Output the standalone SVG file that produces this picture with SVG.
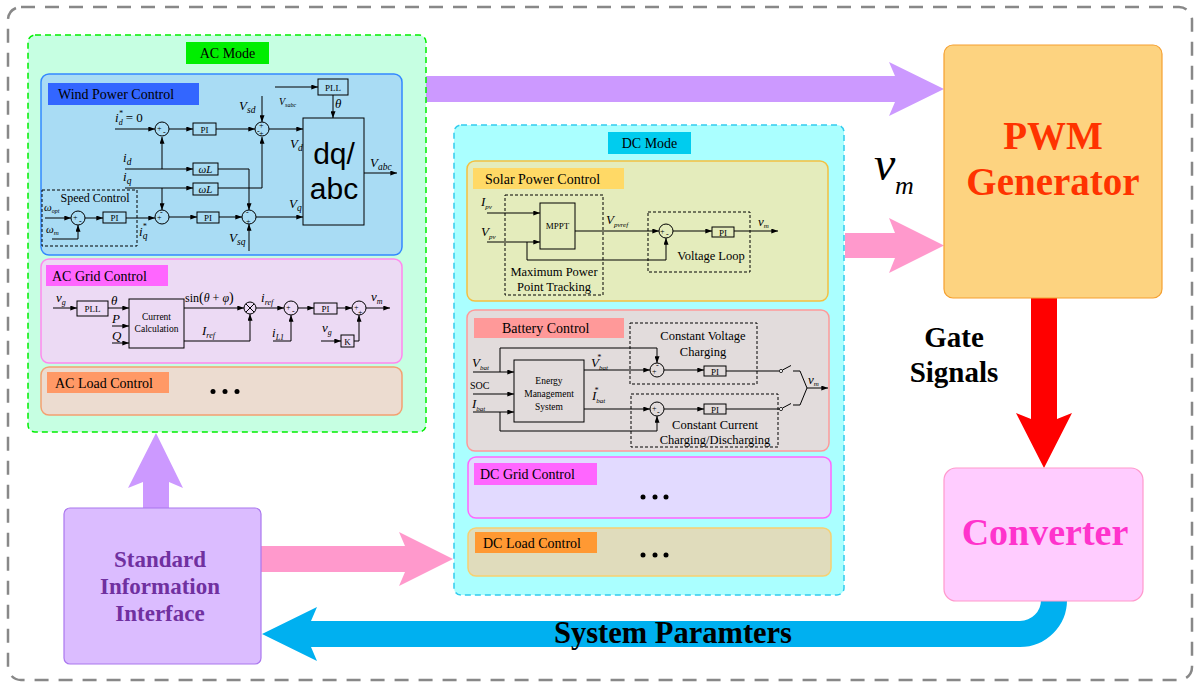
<svg xmlns="http://www.w3.org/2000/svg" width="1198" height="683" viewBox="0 0 1198 683">
<defs>
<marker id="ah" viewBox="0 0 8 6" refX="8" refY="3" markerWidth="7" markerHeight="5" markerUnits="userSpaceOnUse" orient="auto"><path d="M0,0 L8,3 L0,6 z" fill="#000"/></marker>
<style>
text{font-family:"Liberation Serif","Times New Roman",serif;fill:#000}
.w{fill:none;stroke:#000;stroke-width:1;marker-end:url(#ah)}
.l{fill:none;stroke:#000;stroke-width:1}
.b{fill:none;stroke:#000;stroke-width:1}
.d{fill:none;stroke:#000;stroke-width:1;stroke-dasharray:3 2}
.c{fill:none;stroke:#000;stroke-width:1}
.m{font-style:italic;font-size:13px}
.sub{font-size:9.5px}
.sg{font-size:8px}
.pi{font-size:9px;text-anchor:middle}
.hd{font-size:14px}
.sm{font-size:12.5px;text-anchor:middle}
.dot{fill:#000}
</style>
</defs>
<rect width="1198" height="683" fill="#fff"/>
<rect x="8" y="7" width="1184" height="673" rx="13" fill="none" stroke="#888" stroke-width="2.5" stroke-dasharray="14 10"/>

<g id="connectors">
<polygon points="424,76 895,76 889,62 944,89 889,116 895,102 424,102" fill="#cc99ff"/>
<polygon points="845,233 895,233 889,218 944,245.5 889,273 895,258 845,258" fill="#ff99cc"/>
<polygon points="261,546 405,546 399,532 453,559 399,586 405,572 261,572" fill="#ff99cc"/>
<polygon points="143,508 143,482 128,488 156,433 183,488 169,482 169,508" fill="#cc99ff"/>
<polygon points="1031,298 1057,298 1057,419 1072,413 1044,468 1016,413 1031,419" fill="#ff0000"/>
<path d="M1054,598 V600 A34,34 0 0 1 1020,634 H308" fill="none" stroke="#00b0f0" stroke-width="26"/>
<polygon points="311,621 317,607 262,634 317,661 311,647" fill="#00b0f0"/>
</g>

<g id="ac-mode">
<rect x="28" y="35" width="398" height="397" rx="7" fill="#c6ffe2" stroke="#00ee00" stroke-width="1.5" stroke-dasharray="6 4"/>
<rect x="186" y="42" width="83" height="22" fill="#00ee00"/>
<text x="227.5" y="58" font-size="14" text-anchor="middle">AC Mode</text>
</g>

<g id="wind-power-control">
<rect x="41" y="74" width="361" height="181" rx="8" fill="#a9dcf4" stroke="#3388ff" stroke-width="1.5"/>
<rect x="48" y="83" width="151" height="22" fill="#3366ff"/>
<text x="58" y="99" class="hd">Wind Power Control</text>
<text x="115" y="122" class="m">i<tspan font-size="8" dy="3">d</tspan><tspan font-size="8" dx="-4" dy="-9">*</tspan><tspan font-style="normal" dy="6" dx="3">= 0</tspan></text>
<path class="w" d="M115,129 H155"/>
<circle class="c" cx="162" cy="129" r="7"/>
<text x="157" y="131" class="sg">+</text><text x="163" y="135" class="sg">-</text>
<path class="w" d="M169,129 H193"/>
<rect class="b" x="193" y="123" width="23" height="12"/>
<text x="204.5" y="132.5" class="pi">PI</text>
<path class="w" d="M216,129 H255"/>
<circle class="c" cx="262" cy="129" r="7"/>
<text x="259" y="128" class="sg">+</text><text x="257" y="134" class="sg">-</text><text x="259" y="136" class="sg">+</text>
<text x="239" y="110" class="m">V<tspan class="sub" dy="3">sd</tspan></text>
<path class="w" d="M262,96 V122"/>
<path class="w" d="M269,129 H303"/>
<rect class="b" x="303" y="118" width="61" height="107"/>
<text x="334" y="164" font-size="30" text-anchor="middle" style="font-family:'Liberation Sans',Arial,sans-serif">dq/</text>
<text x="334" y="199" font-size="30" text-anchor="middle" style="font-family:'Liberation Sans',Arial,sans-serif">abc</text>
<rect class="b" x="318" y="79" width="30" height="16"/>
<text x="333" y="90.5" class="pi">PLL</text>
<path class="w" d="M275,87 H318"/>
<text x="279" y="105" font-style="italic" font-size="10">V<tspan font-size="6" dy="2">sabc</tspan></text>
<text x="335" y="108" class="m">θ</text>
<path class="w" d="M333,95 V118"/>
<text x="290" y="148" class="m">V<tspan class="sub" dy="3">d</tspan></text>
<text x="289" y="208" class="m">V<tspan class="sub" dy="3">q</tspan></text>
<text x="370" y="167" class="m">V<tspan class="sub" dy="3">abc</tspan></text>
<path class="w" d="M364,173 H397"/>
<text x="123" y="162" class="m">i<tspan class="sub" dy="3">d</tspan></text>
<path class="w" d="M125,169 H193"/>
<path class="w" d="M162,169 V137"/>
<rect class="b" x="193" y="163" width="25" height="12"/>
<text x="205.5" y="173" font-size="11" font-style="italic" text-anchor="middle">ωL</text>
<path class="w" d="M218,169 H249 V210"/>
<text x="123" y="181" class="m">i<tspan class="sub" dy="3">q</tspan></text>
<path class="w" d="M125,188 H193"/>
<rect class="b" x="193" y="183" width="25" height="12"/>
<text x="205.5" y="193" font-size="11" font-style="italic" text-anchor="middle">ωL</text>
<path class="w" d="M218,188 H262 V137"/>
<path class="w" d="M162,188 V210"/>
<rect class="d" x="42" y="190" width="95" height="56"/>
<text x="95" y="202" font-size="12" text-anchor="middle">Speed Control</text>
<text x="44" y="211" font-style="italic" font-size="11">ω<tspan font-size="6" dy="2">opt</tspan></text>
<path class="w" d="M45,218 H71"/>
<circle class="c" cx="78" cy="218" r="7"/>
<text x="73" y="220" class="sg">+</text><text x="79" y="224" class="sg">-</text>
<text x="46" y="233" font-style="italic" font-size="11">ω<tspan font-size="7" dy="2">m</tspan></text>
<path class="w" d="M52,239 H78 V225"/>
<path class="w" d="M85,218 H103"/>
<rect class="b" x="103" y="212" width="23" height="11"/>
<text x="114.5" y="221" class="pi">PI</text>
<path class="w" d="M126,218 H155"/>
<circle class="c" cx="162" cy="217" r="7"/>
<text x="157" y="220" class="sg">+</text><text x="160" y="215" class="sg">-</text>
<text x="139" y="236" class="m">i<tspan class="sub" dy="3">q</tspan><tspan font-size="8" dx="-5" dy="-10">*</tspan></text>
<path class="w" d="M169,217 H197"/>
<rect class="b" x="197" y="212" width="22" height="11"/>
<text x="208" y="221" class="pi">PI</text>
<path class="w" d="M219,217 H242"/>
<circle class="c" cx="249" cy="217" r="7"/>
<text x="246" y="215" class="sg">-</text><text x="246" y="224" class="sg">+</text>
<text x="229" y="242" class="m">V<tspan class="sub" dy="3">sq</tspan></text>
<path class="w" d="M249,251 V224"/>
<path class="w" d="M256,217 H303"/>
</g>

<g id="ac-grid-control">
<rect x="41" y="259" width="361" height="104" rx="8" fill="#ecdaf4" stroke="#ff88ee" stroke-width="1.5"/>
<rect x="46" y="265" width="122" height="21" fill="#ff66ff"/>
<text x="52" y="281" class="hd">AC Grid Control</text>
<text x="56" y="302" class="m">v<tspan font-size="8" dy="3">g</tspan></text>
<path class="w" d="M53,308 H77"/>
<rect class="b" x="77" y="301" width="31" height="15"/>
<text x="92.5" y="312" class="pi">PLL</text>
<text x="111" y="305" class="m">θ</text>
<path class="w" d="M108,308 H129"/>
<text x="112" y="323" class="m">P</text>
<path class="w" d="M112,326 H129"/>
<text x="112" y="340" class="m">Q</text>
<path class="w" d="M112,343 H129"/>
<rect class="b" x="129" y="299" width="55" height="49"/>
<text x="156.5" y="320" font-size="9.5" text-anchor="middle">Current</text>
<text x="156.5" y="332" font-size="9.5" text-anchor="middle">Calculation</text>
<text x="185" y="302" font-size="12">sin<tspan font-size="14">(</tspan><tspan font-style="italic">θ</tspan> + <tspan font-style="italic">φ</tspan><tspan font-size="14">)</tspan></text>
<path class="w" d="M184,308 H244"/>
<circle class="c" cx="250" cy="308" r="6"/>
<path class="l" d="M245.8,303.8 L254.2,312.2 M254.2,303.8 L245.8,312.2"/>
<text x="202" y="335" class="m">I<tspan font-size="8" dy="3">ref</tspan></text>
<path class="w" d="M184,341 H250 V314"/>
<text x="261" y="302" class="m">i<tspan font-size="8" dy="3">ref</tspan></text>
<path class="w" d="M256,308 H284"/>
<circle class="c" cx="291" cy="308" r="7"/>
<text x="286" y="310" class="sg">+</text><text x="292" y="314" class="sg">-</text>
<text x="272" y="337" class="m">i<tspan font-size="8" dy="3">L1</tspan></text>
<path class="w" d="M273,341 H291 V315"/>
<path class="w" d="M298,308 H314"/>
<rect class="b" x="314" y="303" width="23" height="11"/>
<text x="325.5" y="312" class="pi">PI</text>
<path class="w" d="M337,308 H352"/>
<circle class="c" cx="359" cy="308" r="7"/>
<text x="354" y="310" class="sg">+</text><text x="358" y="315" class="sg">+</text>
<text x="371" y="301" class="m">v<tspan font-size="8" dy="3">m</tspan></text>
<path class="w" d="M366,308 H390"/>
<text x="322" y="332" class="m">v<tspan font-size="8" dy="3">g</tspan></text>
<path class="w" d="M321,341 H341"/>
<rect class="b" x="341" y="335" width="13" height="12"/>
<text x="347.5" y="345" class="pi">K</text>
<path class="w" d="M354,341 H359 V315"/>
</g>

<g id="ac-load-control">
<rect x="41" y="367" width="361" height="48" rx="8" fill="#ecdcd0" stroke="#f4a070" stroke-width="1.5"/>
<rect x="47" y="372" width="122" height="21" fill="#ff9966"/>
<text x="55" y="388" class="hd">AC Load Control</text>
<circle class="dot" cx="213" cy="391.5" r="2.5"/><circle class="dot" cx="225" cy="391.5" r="2.5"/><circle class="dot" cx="237" cy="391.5" r="2.5"/>
</g>

<g id="dc-mode">
<rect x="454" y="125" width="390" height="470" rx="7" fill="#aaffff" stroke="#33ccee" stroke-width="1.5" stroke-dasharray="6 4"/>
<rect x="608" y="132" width="83" height="22" fill="#00ccee"/>
<text x="649.5" y="148" font-size="14" text-anchor="middle">DC Mode</text>
</g>

<g id="solar-power-control">
<rect x="467" y="161" width="361" height="140" rx="8" fill="#e4ecbc" stroke="#f4c040" stroke-width="1.5"/>
<rect x="473" y="168" width="151" height="21" fill="#ffd966"/>
<text x="485" y="184" class="hd">Solar Power Control</text>
<rect class="d" x="505" y="195" width="98" height="100"/>
<text x="481" y="206" class="m">I<tspan font-size="7" dy="3">pv</tspan></text>
<path class="w" d="M487,213 H540"/>
<text x="481" y="236" class="m">V<tspan font-size="7" dy="3">pv</tspan></text>
<path class="w" d="M487,242 H540"/>
<rect class="b" x="540" y="203" width="35" height="46"/>
<text x="557.5" y="229" class="pi">MPPT</text>
<path class="w" d="M527,242 V260 H666 V238"/>
<text x="554" y="276" class="sm">Maximum Power</text>
<text x="554" y="291" class="sm">Point Tracking</text>
<text x="606" y="224" class="m">V<tspan font-size="7" dy="3">pvref</tspan></text>
<path class="w" d="M575,231 H659"/>
<rect class="d" x="648" y="212" width="102" height="60"/>
<circle class="c" cx="666" cy="231" r="7"/>
<text x="660" y="234" class="sg">+</text><text x="666" y="237" class="sg">-</text>
<path class="w" d="M673,231 H712"/>
<rect class="b" x="712" y="227" width="22" height="10"/>
<text x="723" y="235.5" class="pi">PI</text>
<path class="w" d="M734,231 H778"/>
<text x="758" y="226" class="m" font-size="11">v<tspan font-size="7" dy="2">m</tspan></text>
<text x="711" y="260" class="sm">Voltage Loop</text>
</g>

<g id="battery-control">
<rect x="467" y="310" width="362" height="141" rx="8" fill="#e2dcdc" stroke="#ff9999" stroke-width="1.5"/>
<rect x="474" y="318" width="150" height="20" fill="#ff9999"/>
<text x="502" y="333" class="hd">Battery Control</text>
<rect class="d" x="630" y="323" width="127" height="61"/>
<rect class="d" x="631" y="394" width="147" height="53"/>
<text x="472" y="367" class="m">V<tspan font-size="7" dy="3">bat</tspan></text>
<path class="w" d="M473,372 H514"/>
<path class="w" d="M500,372 V348 H657 V363"/>
<text x="470" y="389" font-size="10">SOC</text>
<path class="w" d="M473,394 H514"/>
<text x="472" y="408" class="m">I<tspan font-size="7" dy="3">bat</tspan></text>
<path class="w" d="M473,412 H514"/>
<path class="w" d="M500,412 V431 H657 V416"/>
<rect class="b" x="514" y="360" width="70" height="62"/>
<text x="549" y="384" font-size="9.5" text-anchor="middle">Energy</text>
<text x="549" y="397" font-size="9.5" text-anchor="middle">Management</text>
<text x="549" y="410" font-size="9.5" text-anchor="middle">System</text>
<text x="591" y="367" class="m">V<tspan font-size="7" dy="3">bat</tspan><tspan font-size="8" dx="-11" dy="-10">*</tspan></text>
<path class="w" d="M584,370 H650"/>
<text x="592" y="400" class="m">I<tspan font-size="7" dy="3">bat</tspan><tspan font-size="8" dx="-11" dy="-10">*</tspan></text>
<path class="w" d="M584,409 H650"/>
<circle class="c" cx="657" cy="370" r="7"/>
<text x="652" y="374" class="sg">+</text><text x="656" y="368" class="sg">-</text>
<circle class="c" cx="657" cy="409" r="7"/>
<text x="652" y="411" class="sg">+</text><text x="657" y="415" class="sg">-</text>
<path class="w" d="M664,370 H704"/>
<rect class="b" x="704" y="366" width="22" height="10"/>
<text x="715" y="374.5" class="pi">PI</text>
<path class="l" d="M726,371 H779"/>
<path class="w" d="M664,409 H704"/>
<rect class="b" x="704" y="404" width="22" height="10"/>
<text x="715" y="412.5" class="pi">PI</text>
<path class="l" d="M726,409 H779"/>
<circle cx="781" cy="371" r="1.6" fill="#fff" stroke="#000" stroke-width="0.8"/>
<path class="l" d="M782.5,370 L791,365.5"/>
<path class="l" d="M793,371 H800 L807,388"/>
<circle cx="781" cy="409" r="1.6" fill="#fff" stroke="#000" stroke-width="0.8"/>
<path class="l" d="M782.5,408 L791,403.5"/>
<path class="l" d="M793,405 H800 L807,388"/>
<path class="w" d="M807,388 H828"/>
<text x="808" y="384" class="m" font-size="11">v<tspan font-size="7" dy="2">m</tspan></text>
<text x="703" y="340" class="sm">Constant Voltage</text>
<text x="703" y="356" class="sm">Charging</text>
<text x="715" y="429" class="sm">Constant Current</text>
<text x="715" y="444" class="sm">Charging/Discharging</text>
</g>

<g id="dc-grid-control">
<rect x="468" y="457" width="363" height="61" rx="8" fill="#e2daff" stroke="#ff66ff" stroke-width="1.5"/>
<rect x="474" y="463" width="123" height="22" fill="#ff66ff"/>
<text x="480" y="479" class="hd">DC Grid Control</text>
<circle class="dot" cx="643" cy="497" r="2.5"/><circle class="dot" cx="655" cy="497" r="2.5"/><circle class="dot" cx="666" cy="497" r="2.5"/>
</g>

<g id="dc-load-control">
<rect x="468" y="528" width="363" height="48" rx="8" fill="#e0dcbc" stroke="#f8d070" stroke-width="1.5"/>
<rect x="475" y="532" width="122" height="21" fill="#ff9933"/>
<text x="483" y="548" class="hd">DC Load Control</text>
<circle class="dot" cx="643" cy="555" r="2.5"/><circle class="dot" cx="655" cy="555" r="2.5"/><circle class="dot" cx="666" cy="555" r="2.5"/>
</g>

<g id="pwm-generator">
<rect x="944" y="45" width="218" height="253" rx="9" fill="#fdd380" stroke="#f5a030" stroke-width="1.2"/>
<text x="1053" y="149" font-size="39" font-weight="bold" style="fill:#ff3300" text-anchor="middle">PWM</text>
<text x="1053" y="195" font-size="39" font-weight="bold" style="fill:#ff3300" text-anchor="middle">Generator</text>
</g>

<g id="converter">
<rect x="944" y="468" width="199" height="133" rx="12" fill="#ffccff" stroke="#ff99cc" stroke-width="1.2"/>
<text x="1045" y="545" font-size="38" font-weight="bold" style="fill:#ff33cc" text-anchor="middle">Converter</text>
</g>

<g id="standard-information-interface">
<rect x="64" y="508" width="197" height="156" rx="6" fill="#dbbcff" stroke="#aa77ee" stroke-width="1.2"/>
<text x="160" y="567" font-size="23" font-weight="bold" style="fill:#7030a0" text-anchor="middle">Standard</text>
<text x="160" y="594" font-size="23" font-weight="bold" style="fill:#7030a0" text-anchor="middle">Information</text>
<text x="160" y="621" font-size="23" font-weight="bold" style="fill:#7030a0" text-anchor="middle">Interface</text>
</g>

<g id="labels">
<text x="874" y="180" font-size="48" font-style="italic">v</text>
<text x="895" y="194" font-size="26" font-style="italic">m</text>
<text x="954" y="347" font-size="29" font-weight="bold" text-anchor="middle">Gate</text>
<text x="954" y="382" font-size="29" font-weight="bold" text-anchor="middle">Signals</text>
<text x="673" y="643" font-size="30.5" font-weight="bold" text-anchor="middle">System Paramters</text>
</g>
</svg>
